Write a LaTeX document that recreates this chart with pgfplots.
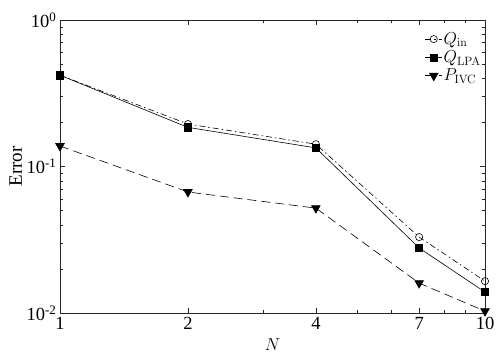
\documentclass[border=0pt]{standalone}
\usepackage[no-math]{fontspec}
\setmainfont{Liberation Serif}
\usepackage{pgfplots}
\pgfplotsset{compat=1.18}

\begin{document}
\begin{tikzpicture}
\begin{axis}[
  scale only axis,
  width=425pt, height=293pt,
  xmode=log, ymode=log,
  xmin=1, xmax=10, ymin=1e-2, ymax=1,
  xtick={1,2,4,7,10},
  xticklabels={1,2,4,7,10},
  minor xtick={3,5,6,8,9},
  ytick={1e-2,1e-1,1},
  yticklabels={10\textsuperscript{-2},10\textsuperscript{-1},10\textsuperscript{0}},
  tick align=inside,
  major tick length=5pt,
  minor tick length=3pt,
  tick style={black!85, line width=0.4pt},
  axis line style={black!85, line width=0.5pt},
  ticklabel style={font=\fontsize{18.5}{21}\selectfont},
  xticklabel style={yshift=-1pt},
  xlabel={$N$},
  ylabel={Error},
  every axis x label/.style={at={(axis description cs:0.5,-0.109)}, anchor=center,
    font=\fontsize{19}{22}\selectfont},
  every axis y label/.style={at={(axis description cs:-0.104,0.5)}, rotate=90, anchor=center,
    font=\fontsize{19}{22}\selectfont},
  legend style={at={(0.995,0.965)}, anchor=north east, draw=none, fill=none,
    font=\fontsize{17.5}{20}\selectfont, row sep=3pt, inner sep=1pt,
    nodes={inner sep=1pt}},
  legend cell align=left,
  legend image code/.code={
    \draw[mark repeat=2, mark phase=2, #1] plot coordinates {(0cm,0cm) (0.3cm,0cm) (0.6cm,0cm)};
  },
]
% Q_in
\addplot[black, line width=0.6pt, dash pattern=on 6pt off 3pt on 1.5pt off 3pt,
  mark=o, mark size=3.6pt, mark options={solid, fill=white}] coordinates {
  (1,0.42) (2,0.195) (4,0.142) (7,0.033) (10,0.0165)
};
% Q_LPA
\addplot[black, line width=0.6pt, mark=square*, mark size=3.6pt, mark options={solid}] coordinates {
  (1,0.42) (2,0.185) (4,0.134) (7,0.0278) (10,0.0139)
};
% P_IVC
\addplot[black, line width=0.6pt, dash pattern=on 9pt off 5pt,
  mark=triangle*, mark size=5pt, mark options={solid, rotate=180}] coordinates {
  (1,0.138) (2,0.067) (4,0.052) (7,0.016) (10,0.0103)
};
\legend{$Q_{\mathrm{in}}$, $Q_{\mathrm{LPA}}$, $P_{\mathrm{IVC}}$}
\end{axis}
\path (current axis.south west) ++(-60pt,-45pt);
\path (current axis.north east) ++(13pt,20pt);
\end{tikzpicture}
\end{document}
